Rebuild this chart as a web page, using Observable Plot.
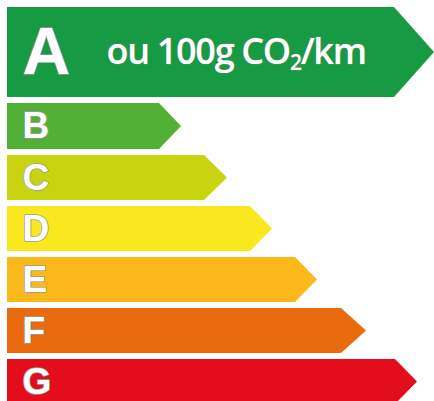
<!DOCTYPE html>
<html>
<head>
<meta charset="utf-8">
<script src="https://cdn.jsdelivr.net/npm/d3@7"></script>
<script src="https://cdn.jsdelivr.net/npm/@observablehq/plot@0.6"></script>
<style>
  html, body { margin: 0; padding: 0; background: #ffffff; }
  #chart svg { display: block; }
</style>
</head>
<body>
<div id="chart"></div>
<script>
// Energy classes, colours and bar geometry (in pixel units)
const classes   = ["A", "B", "C", "D", "E", "F", "G"];
const colors    = ["#179a44", "#52b035", "#c8d40f", "#f9e81d", "#fbb81b", "#ea6b0d", "#e30d1b"];
const barStart  = 7;
const barEnd    = [394, 159, 204, 250, 295, 341, 395];
const tipEnd    = [434, 181, 227, 272, 317, 366, 417];
const barTop    = [7, 103, 155, 206, 257, 308, 359];
const barBottom = [97, 149, 200, 251, 302, 353, 404];
const letterSize = [66, 37, 37, 37, 37, 37, 37];
const subtitle  = "ou 100g CO₂/km";

// Build arrow polygons (top corner, tip, bottom corner) for an areaX mark
const arrowPts = [];
classes.forEach((c, i) => {
  const mid = (barTop[i] + barBottom[i]) / 2;
  arrowPts.push({cls: c, color: colors[i], y: barTop[i], x1: barStart, x2: barEnd[i]});
  arrowPts.push({cls: c, color: colors[i], y: mid, x1: barStart, x2: tipEnd[i]});
  arrowPts.push({cls: c, color: colors[i], y: barBottom[i], x1: barStart, x2: barEnd[i]});
});

const letters = classes.map((c, i) => ({
  cls: c,
  x: barStart + 15,
  y: (barTop[i] + barBottom[i]) / 2,
  size: letterSize[i]
}));

const sub = [{text: subtitle, x: 106, y: (barTop[0] + barBottom[0]) / 2}];

const chart = Plot.plot({
  width: 434,
  height: 401,
  margin: 0,
  style: {background: "#ffffff"},
  x: {domain: [0, 434], range: [0, 434], axis: null},
  y: {domain: [0, 401], range: [0, 401], axis: null},
  marks: [
    Plot.areaX(arrowPts, {
      y: "y", x1: "x1", x2: "x2", z: "cls",
      fill: "color", curve: "linear"
    }),
    ...letters.map(d => Plot.text([d], {
      x: "x", y: "y", text: "cls",
      textAnchor: "start", lineAnchor: "middle",
      fontSize: d.size, fontWeight: "bold",
      fontFamily: "Liberation Sans, Arial, sans-serif",
      fill: "#ffffff", stroke: "#9a9a9a", strokeWidth: 1.6, paintOrder: "stroke"
    })),
    Plot.text(sub, {
      x: "x", y: "y", text: "text",
      textAnchor: "start", lineAnchor: "middle",
      fontSize: 36, fontWeight: 600,
      fontFamily: "Open Sans, sans-serif",
      fill: "#ffffff", stroke: "#6a8f6a", strokeWidth: 1, paintOrder: "stroke",
      className: "subtitle"
    })
  ]
});

// Render the subscript "2" with a tspan, keeping real text
d3.select(chart).selectAll(".subtitle text").each(function () {
  const t = d3.select(this);
  const full = t.text();
  const idx = full.indexOf("₂");
  if (idx < 0) return;
  t.text(null);
  t.append("tspan").text(full.slice(0, idx));
  t.append("tspan").attr("font-size", 21).attr("dy", "6").text("2");
  t.append("tspan").attr("dy", "-6").text(full.slice(idx + 1));
  t.attr("letter-spacing", "-1.3");
});

document.getElementById("chart").appendChild(chart);
</script>
</body>
</html>
